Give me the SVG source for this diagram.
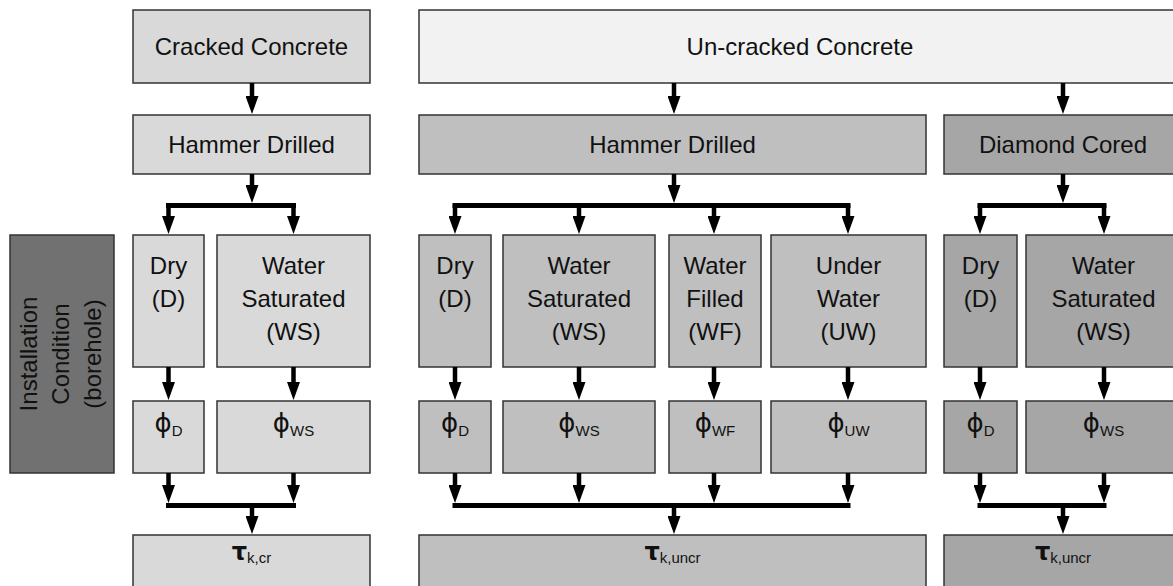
<svg xmlns="http://www.w3.org/2000/svg" width="1173" height="586" viewBox="0 0 1173 586">
<style>
rect{stroke:#333;stroke-width:1.5}
.c1{fill:#d9d9d9}
.c0{fill:#f2f2f2}
.c2{fill:#bfbfbf}
.c3{fill:#a6a6a6}
.c4{fill:#717171}
text{font-family:"Liberation Sans",Arial,Helvetica,sans-serif;font-size:24px;fill:#111;text-anchor:middle}
.phi{font-family:"DejaVu Sans",sans-serif;font-size:26px}
.tau{font-family:"DejaVu Sans",sans-serif;font-size:24px;font-weight:bold}
.sub{font-family:"Liberation Sans",Arial,sans-serif;font-size:15px;font-weight:normal}
.ar{stroke:#000;stroke-width:4.5;fill:none;marker-end:url(#ah)}
.bar{stroke:#000;stroke-width:5;fill:none;stroke-linecap:square}
</style>
<defs>
<marker id="ah" viewBox="0 0 18 13" refX="8" refY="6.5" markerWidth="18" markerHeight="13" orient="auto" markerUnits="userSpaceOnUse"><path d="M0,0 L18,6.5 L0,13 z" fill="#000"/></marker>
</defs>
<g id="installation"><rect class="c4" x="10" y="235" width="104" height="238"/><text transform="translate(37,354) rotate(-90)">Installation<tspan x="0" dy="32">Condition</tspan><tspan x="0" dy="32">(borehole)</tspan></text></g>
<g id="cracked"><rect class="c1" x="133" y="10" width="237" height="73"/><text x="251.5" y="55">Cracked Concrete</text></g>
<g id="uncracked"><rect class="c0" x="419" y="10" width="762" height="73"/><text x="800" y="55">Un-cracked Concrete</text></g>
<g id="hammer-cr"><rect class="c1" x="133" y="115" width="237" height="59"/><text x="251.5" y="153">Hammer Drilled</text></g>
<g id="hammer-uncr"><rect class="c2" x="419" y="115" width="507" height="59"/><text x="672.5" y="153">Hammer Drilled</text></g>
<g id="diamond"><rect class="c3" x="944" y="115" width="237" height="59"/><text x="1063" y="153">Diamond Cored</text></g>
<g id="dry-cr"><rect class="c1" x="133" y="235" width="71" height="132"/><text x="168.5" y="274">Dry<tspan x="168.5" dy="33">(D)</tspan></text></g>
<g id="ws-cr"><rect class="c1" x="217" y="235" width="153" height="132"/><text x="293.5" y="274">Water<tspan x="293.5" dy="33">Saturated</tspan><tspan x="293.5" dy="33">(WS)</tspan></text></g>
<g id="dry-hd"><rect class="c2" x="419" y="235" width="72" height="132"/><text x="455" y="274">Dry<tspan x="455" dy="33">(D)</tspan></text></g>
<g id="ws-hd"><rect class="c2" x="503" y="235" width="152" height="132"/><text x="579" y="274">Water<tspan x="579" dy="33">Saturated</tspan><tspan x="579" dy="33">(WS)</tspan></text></g>
<g id="wf-hd"><rect class="c2" x="669" y="235" width="92" height="132"/><text x="715" y="274">Water<tspan x="715" dy="33">Filled</tspan><tspan x="715" dy="33">(WF)</tspan></text></g>
<g id="uw-hd"><rect class="c2" x="771" y="235" width="155" height="132"/><text x="848.5" y="274">Under<tspan x="848.5" dy="33">Water</tspan><tspan x="848.5" dy="33">(UW)</tspan></text></g>
<g id="dry-dc"><rect class="c3" x="944" y="235" width="73" height="132"/><text x="980.5" y="274">Dry<tspan x="980.5" dy="33">(D)</tspan></text></g>
<g id="ws-dc"><rect class="c3" x="1026" y="235" width="155" height="132"/><text x="1103.5" y="274">Water<tspan x="1103.5" dy="33">Saturated</tspan><tspan x="1103.5" dy="33">(WS)</tspan></text></g>
<g id="phi-d-cr"><rect class="c1" x="133" y="401" width="71" height="72"/><text class="phi" x="168.5" y="432">ϕ<tspan class="sub" dy="4">D</tspan></text></g>
<g id="phi-ws-cr"><rect class="c1" x="217" y="401" width="153" height="72"/><text class="phi" x="293.5" y="432">ϕ<tspan class="sub" dy="4">WS</tspan></text></g>
<g id="phi-d-hd"><rect class="c2" x="419" y="401" width="72" height="72"/><text class="phi" x="455" y="432">ϕ<tspan class="sub" dy="4">D</tspan></text></g>
<g id="phi-ws-hd"><rect class="c2" x="503" y="401" width="152" height="72"/><text class="phi" x="579" y="432">ϕ<tspan class="sub" dy="4">WS</tspan></text></g>
<g id="phi-wf-hd"><rect class="c2" x="669" y="401" width="92" height="72"/><text class="phi" x="715" y="432">ϕ<tspan class="sub" dy="4">WF</tspan></text></g>
<g id="phi-uw-hd"><rect class="c2" x="771" y="401" width="155" height="72"/><text class="phi" x="848.5" y="432">ϕ<tspan class="sub" dy="4">UW</tspan></text></g>
<g id="phi-d-dc"><rect class="c3" x="944" y="401" width="73" height="72"/><text class="phi" x="980.5" y="432">ϕ<tspan class="sub" dy="4">D</tspan></text></g>
<g id="phi-ws-dc"><rect class="c3" x="1026" y="401" width="155" height="72"/><text class="phi" x="1103.5" y="432">ϕ<tspan class="sub" dy="4">WS</tspan></text></g>
<g id="tau-cr"><rect class="c1" x="133" y="535" width="237" height="60"/><text class="tau" x="251.5" y="560">τ<tspan class="sub" dy="3">k,cr</tspan></text></g>
<g id="tau-uncr-hd"><rect class="c2" x="419" y="535" width="507" height="60"/><text class="tau" x="672.5" y="560">τ<tspan class="sub" dy="3">k,uncr</tspan></text></g>
<g id="tau-uncr-dc"><rect class="c3" x="944" y="535" width="237" height="60"/><text class="tau" x="1063" y="560">τ<tspan class="sub" dy="3">k,uncr</tspan></text></g>
<g id="connectors">
<path class="ar" d="M252,83 V104"/>
<path class="ar" d="M674,83 V104"/>
<path class="ar" d="M1063,83 V104"/>
<path class="ar" d="M252,174 V193"/>
<path class="ar" d="M674,174 V193"/>
<path class="ar" d="M1063,174 V193"/>
<path class="bar" d="M168.5,205.5 H293.5"/>
<path class="bar" d="M455,205.5 H848"/>
<path class="bar" d="M980,205.5 H1104"/>
<path class="ar" d="M168.5,205 V224"/>
<path class="ar" d="M293.5,205 V224"/>
<path class="ar" d="M455,205 V224"/>
<path class="ar" d="M579,205 V224"/>
<path class="ar" d="M714,205 V224"/>
<path class="ar" d="M848,205 V224"/>
<path class="ar" d="M980,205 V224"/>
<path class="ar" d="M1104,205 V224"/>
<path class="ar" d="M168.5,367 V390"/>
<path class="ar" d="M293.5,367 V390"/>
<path class="ar" d="M455,367 V390"/>
<path class="ar" d="M579,367 V390"/>
<path class="ar" d="M714,367 V390"/>
<path class="ar" d="M848,367 V390"/>
<path class="ar" d="M980,367 V390"/>
<path class="ar" d="M1104,367 V390"/>
<path class="ar" d="M168.5,473 V493"/>
<path class="ar" d="M293.5,473 V493"/>
<path class="ar" d="M455,473 V493"/>
<path class="ar" d="M579,473 V493"/>
<path class="ar" d="M714,473 V493"/>
<path class="ar" d="M848,473 V493"/>
<path class="ar" d="M980,473 V493"/>
<path class="ar" d="M1104,473 V493"/>
<path class="bar" d="M168.5,505.5 H293.5"/>
<path class="bar" d="M455,505.5 H848"/>
<path class="bar" d="M980,505.5 H1104"/>
<path class="ar" d="M252,505 V524"/>
<path class="ar" d="M674,505 V524"/>
<path class="ar" d="M1063,505 V524"/>
</g>
</svg>
